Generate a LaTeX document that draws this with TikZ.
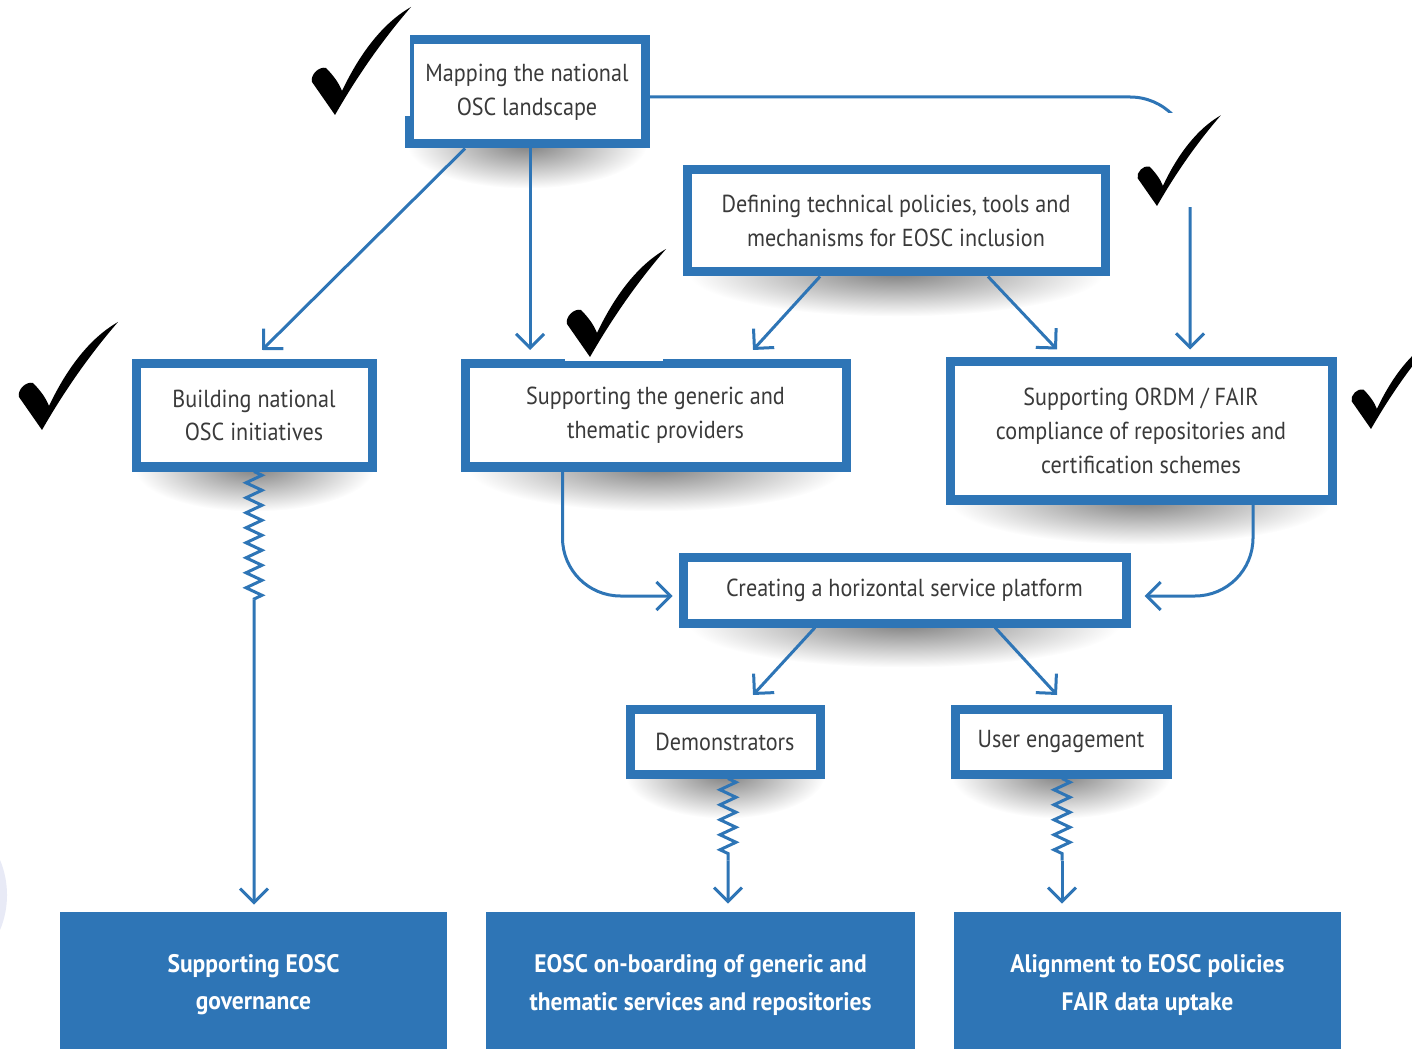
\documentclass[tikz,border=0pt]{standalone}
\usepackage{fontspec}
\setmainfont{PT Sans}[FakeStretch=0.9]
\newfontfamily\medf{PT Sans}[FakeStretch=0.93]
\usetikzlibrary{arrows.meta,calc,decorations.pathmorphing,backgrounds}
\definecolor{eblue}{RGB}{46,117,182}
\definecolor{etext}{RGB}{58,58,58}
\definecolor{ecirc}{RGB}{232,234,246}
\newdimen\pxu \pxu=0.025cm
\tikzset{
  checkmk/.pic={
    \fill[black] (0,0) -- (-23,-33) .. controls (-25,-40) and (-16,-49) .. (-9,-47)
      .. controls (-2,-40) and (4,-32) .. (7,-24)
      .. controls (25,-62) and (48,-92) .. (76,-108)
      .. controls (50,-78) and (24,-42) .. (0,0) -- cycle;
  }
}
\begin{document}
\begin{tikzpicture}[x=0.025cm,y=-0.025cm,
  wbox/.style={draw=eblue, line width=0.225cm, fill=white, text=etext, align=center,
    inner sep=0pt, font=\fontsize{17.5pt}{24pt}\selectfont},
  bbox/.style={fill=eblue, text=white, align=center, inner sep=0pt,
    font=\medf\bfseries\fontsize{18pt}{26.5pt}\selectfont},
  conn/.style={draw=eblue, line width=0.075cm, -{Straight Barb[length=0.35cm,width=0.7cm]}},
  plainln/.style={draw=eblue, line width=0.075cm},
  zz/.style={plainln, decorate, decoration={zigzag, segment length=0.375cm, amplitude=0.2cm}},
  ]
\useasboundingbox (0,0) rectangle (1412,1049);
\fill[ecirc] (-84,895) circle [radius=2.275cm];

% boxes
\node[wbox, minimum width=236\pxu, minimum height=104\pxu] (map) at (527,92) {Mapping the national\\OSC landscape};
\node[wbox, minimum width=418\pxu, minimum height=102\pxu] (def) at (896,221) {Defining technical policies, tools and\\mechanisms for EOSC inclusion};
\node[wbox, minimum width=236\pxu, minimum height=103\pxu] (build) at (254,415.5) {Building national\\OSC initiatives};
\node[wbox, minimum width=381\pxu, minimum height=103\pxu] (gen) at (655.5,415.5) {Supporting the generic and\\thematic providers};
\node[wbox, minimum width=382\pxu, minimum height=138\pxu] (ordm) at (1141,431) {Supporting ORDM / FAIR\\compliance of repositories and\\certification schemes};
\node[wbox, minimum width=443\pxu, minimum height=66\pxu] (cre) at (904.5,590) {Creating a horizontal service platform};
\node[wbox, minimum width=190\pxu, minimum height=65\pxu] (dem) at (725,741.5) {Demonstrators};
\node[wbox, minimum width=212\pxu, minimum height=65\pxu] (user) at (1061,741.5) {User engagement};
\node[bbox, minimum width=387\pxu, minimum height=146\pxu] (b1) at (253.5,985) {Supporting EOSC\\governance};
\node[bbox, minimum width=429\pxu, minimum height=146\pxu] (b2) at (700.5,985) {EOSC on-boarding of generic and\\thematic services and repositories};
\node[bbox, minimum width=387\pxu, minimum height=146\pxu] (b3) at (1147.5,985) {Alignment to EOSC policies\\FAIR data uptake};

% shadows
\begin{pgfonlayer}{background}
\foreach \n/\r in {map/3.0, def/5.2, build/3.0, gen/4.7, ordm/4.8, cre/5.4, dem/2.5, user/2.75} {
  \shade[inner color=black!50, outer color=white] ($(\n.south)+(0,-4)$) ellipse [x radius=\r cm, y radius=1.1cm];
}
\end{pgfonlayer}

% connectors
\draw[conn] ($(map.south)+(-62,0)$) -- ($(build.north)+(8,-9.5)$);
\draw[conn] ($(map.south)+(3,0)$) -- ($(gen.north)+(-125.5,-9.5)$);
\draw[conn, rounded corners=1.5cm] ($(map.east)+(0,5)$) -| ($(ordm.north)+(49,-8)$);
\draw[conn] ($(def.south)+(-76,0)$) -- ($(gen.north)+(97.5,-9.5)$);
\draw[conn] ($(def.south)+(92,0)$) -- ($(ordm.north)+(-84,-8)$);
\draw[conn, rounded corners=1.45cm] ($(gen.south)+(-93,0)$) |- ($(cre.west)+(-6,6)$);
\draw[conn, rounded corners=1.45cm] ($(ordm.south)+(112,0)$) |- ($(cre.east)+(14,6)$);
\draw[conn] ($(cre.south)+(-89.5,0)$) -- ($(dem.north)+(28,-9.5)$);
\draw[conn] ($(cre.south)+(90.5,0)$) -- ($(user.north)+(-4,-9.5)$);

\coordinate (z1) at ($(build.south)+(0,128)$);
\draw[zz] (build.south) -- (z1);
\draw[conn] (z1) -- ($(b1.north)+(0.5,-7)$);
\coordinate (z2s) at ($(dem.south)+(3,0)$);
\coordinate (z2) at ($(dem.south)+(3,82)$);
\draw[zz] (z2s) -- (z2);
\draw[conn] (z2) -- ($(b2.north)+(27.5,-8)$);
\coordinate (z3s) at ($(user.south)+(1,0)$);
\coordinate (z3) at ($(user.south)+(1,82)$);
\draw[zz] (z3s) -- (z3);
\draw[conn] (z3) -- ($(b3.north)+(-85.5,-8)$);

% tick backgrounds and ticks
\fill[white] (300,0) rectangle (410,116);
\fill[white] (565,250) rectangle (663,361);
\fill[white] (1133,113) rectangle (1222,207);
\pic at (335,115) {checkmk};
\pic at (42,430) {checkmk};
\pic at (590,357) {checkmk};
\pic[scale=0.84] at (1157,206) {checkmk};
\pic[scale=0.84] at (1371,429) {checkmk};
\end{tikzpicture}
\end{document}
